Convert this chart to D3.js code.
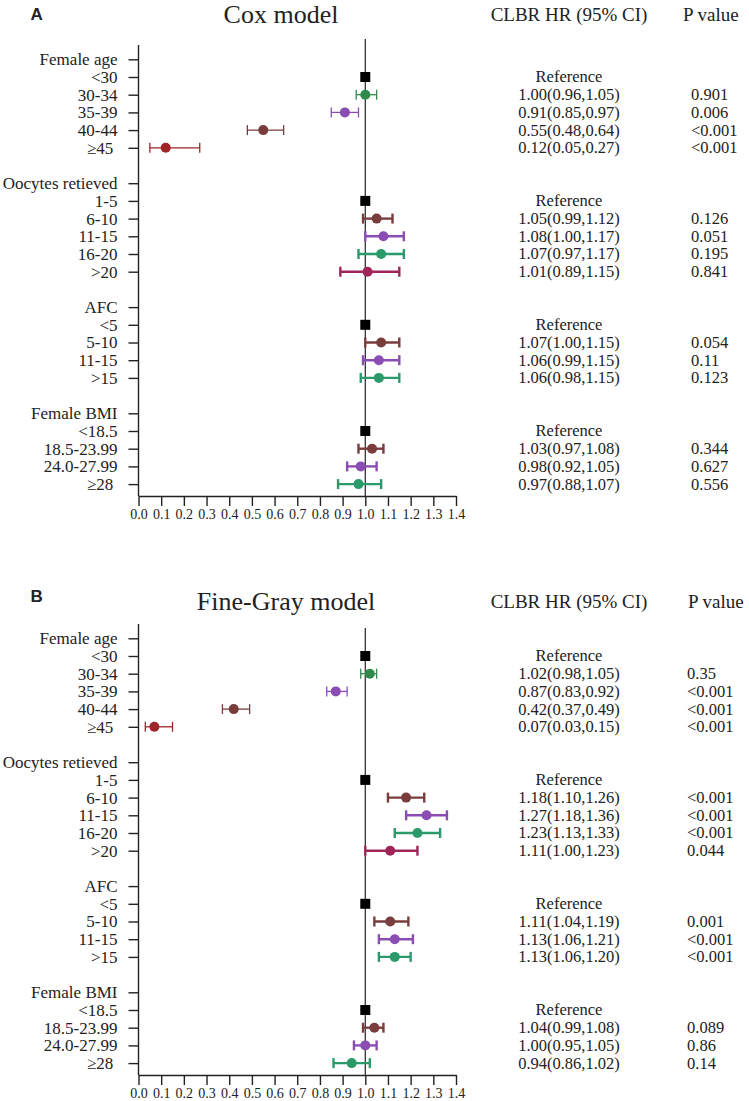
<!DOCTYPE html>
<html>
<head>
<meta charset="utf-8">
<script src="https://cdn.jsdelivr.net/npm/d3@7"></script>
<style>
  body { margin: 0; background: #fff; }
  text { font-family: "Liberation Serif", "Times New Roman", serif; }
</style>
</head>
<body>
<svg id="chart" width="749" height="1101"></svg>
<script>
const groups = ["Female age", "Oocytes retieved", "AFC", "Female BMI"];
const levels = [
  ["<30", "30-34", "35-39", "40-44", "≥45\u00a0"],
  ["1-5", "6-10", "11-15", "16-20", ">20"],
  ["<5", "5-10", "11-15", ">15"],
  ["<18.5", "18.5-23.99", "24.0-27.99", "≥28\u00a0"],
];

// Cox model (reference level excluded)
const coxHR = [[1.00, 0.91, 0.55, 0.12], [1.05, 1.08, 1.07, 1.01], [1.07, 1.06, 1.06], [1.03, 0.98, 0.97]];
const coxLo = [[0.96, 0.85, 0.48, 0.05], [0.99, 1.00, 0.97, 0.89], [1.00, 0.99, 0.98], [0.97, 0.92, 0.88]];
const coxHi = [[1.05, 0.97, 0.64, 0.27], [1.12, 1.17, 1.17, 1.15], [1.15, 1.15, 1.15], [1.08, 1.05, 1.07]];
const coxP = [["0.901", "0.006", "<0.001", "<0.001"], ["0.126", "0.051", "0.195", "0.841"], ["0.054", "0.11", "0.123"], ["0.344", "0.627", "0.556"]];

// Fine-Gray model
const fgHR = [[1.02, 0.87, 0.42, 0.07], [1.18, 1.27, 1.23, 1.11], [1.11, 1.13, 1.13], [1.04, 1.00, 0.94]];
const fgLo = [[0.98, 0.83, 0.37, 0.03], [1.10, 1.18, 1.13, 1.00], [1.04, 1.06, 1.06], [0.99, 0.95, 0.86]];
const fgHi = [[1.05, 0.92, 0.49, 0.15], [1.26, 1.36, 1.33, 1.23], [1.19, 1.21, 1.20], [1.08, 1.05, 1.02]];
const fgP = [["0.35", "<0.001", "<0.001", "<0.001"], ["<0.001", "<0.001", "<0.001", "0.044"], ["0.001", "<0.001", "<0.001"], ["0.089", "0.86", "0.14"]];

const xTicks = [0.0, 0.1, 0.2, 0.3, 0.4, 0.5, 0.6, 0.7, 0.8, 0.9, 1.0, 1.1, 1.2, 1.3, 1.4];

const brown = "#7a3d3d", purple = "#8a4db3", teal = "#2b9a6b";
const colorSets = [
  ["#2f8a4c", purple, brown, "#9e2427"],
  [brown, purple, teal, "#a0265a"],
  [brown, purple, teal],
  [brown, purple, teal],
];
const barWidths = [1.3, 2.4, 2.4, 2.4];

const svg = d3.select("#chart");

const x = d3.scaleLinear().domain([0, 1.4]).range([138.5, 456]);

function buildRows(hr, lo, hi, p) {
  const rows = [];
  groups.forEach((g, gi) => {
    if (gi > 0) rows.push({ type: "blank", label: "" });
    rows.push({ type: "header", label: g });
    levels[gi].forEach((lv, li) => {
      if (li === 0) {
        rows.push({ type: "ref", label: lv, g: gi });
      } else {
        const k = li - 1;
        rows.push({
          type: "est", label: lv, g: gi, k: k,
          hr: hr[gi][k], lo: lo[gi][k], hi: hi[gi][k], p: p[gi][k],
        });
      }
    });
  });
  rows.forEach((r, i) => (r.i = i));
  return rows;
}

function drawPanel(opt) {
  const rows = buildRows(opt.hr, opt.lo, opt.hi, opt.p);
  const top = opt.top;
  const axisBottom = top + 496;

  const y = d3
    .scalePoint()
    .domain(rows.map((r) => r.i))
    .range([top + 59.3, top + 484.1]);

  const g = svg.append("g");

  // panel letter + title + column headers
  g.append("text")
    .attr("x", 30.5)
    .attr("y", opt.letterY)
    .attr("font-weight", "bold")
    .attr("font-size", 17)
    .attr("fill", "#222")
    .style("font-family", "'Liberation Sans', Arial, sans-serif")
    .text(opt.letter);

  g.append("text")
    .attr("x", opt.titleX)
    .attr("y", opt.titleY)
    .attr("text-anchor", "middle")
    .attr("font-size", 26)
    .attr("fill", "#222")
    .text(opt.title);

  g.append("text")
    .attr("x", 569)
    .attr("y", opt.headY)
    .attr("text-anchor", "middle")
    .attr("font-size", 19)
    .attr("fill", "#222")
    .text("CLBR HR (95% CI)");

  g.append("text")
    .attr("x", opt.pHeadX)
    .attr("y", opt.headY)
    .attr("font-size", 19)
    .attr("fill", "#222")
    .text("P value");

  // y axis
  const yAxis = g
    .append("g")
    .attr("transform", `translate(${x(0)},0)`)
    .call(
      d3.axisLeft(y)
        .tickValues(rows.filter((r) => r.type !== "blank").map((r) => r.i))
        .tickFormat((i) => rows[i].label)
        .tickSize(10)
        .tickPadding(11)
    );
  yAxis.select(".domain").remove();
  yAxis.selectAll(".tick line").attr("stroke", "#222").attr("stroke-width", 1.4);
  yAxis.selectAll(".tick text")
    .attr("font-size", 17)
    .attr("fill", "#222")
    .style("font-family", "'Liberation Serif', 'Times New Roman', serif");

  g.append("line")
    .attr("x1", x(0)).attr("x2", x(0))
    .attr("y1", top + 45).attr("y2", axisBottom)
    .attr("stroke", "#222")
    .attr("stroke-width", 1.4);

  // x axis
  const xAxis = g
    .append("g")
    .attr("transform", `translate(0,${axisBottom})`)
    .call(
      d3.axisBottom(x)
        .tickValues(xTicks)
        .tickFormat(d3.format(".1f"))
        .tickSize(10)
        .tickSizeOuter(0)
        .tickPadding(3)
    );
  xAxis.select(".domain").attr("stroke", "#222").attr("stroke-width", 1.4);
  xAxis.selectAll(".tick line").attr("stroke", "#222").attr("stroke-width", 1.4);
  xAxis.selectAll(".tick text")
    .attr("font-size", 14)
    .attr("fill", "#222")
    .style("font-family", "'Liberation Serif', 'Times New Roman', serif");

  // line of no effect
  g.append("line")
    .attr("x1", x(1)).attr("x2", x(1))
    .attr("y1", top + opt.refTop).attr("y2", axisBottom)
    .attr("stroke", "#222")
    .attr("stroke-width", 1.2);

  const est = rows.filter((r) => r.type === "est");
  const refs = rows.filter((r) => r.type === "ref");

  const bars = g.append("g")
    .selectAll("g")
    .data(est)
    .join("g")
    .attr("stroke", (d) => colorSets[d.g][d.k])
    .attr("stroke-width", (d) => barWidths[d.g]);

  bars.append("line")
    .attr("x1", (d) => x(d.lo)).attr("x2", (d) => x(d.hi))
    .attr("y1", (d) => y(d.i)).attr("y2", (d) => y(d.i));
  bars.append("line")
    .attr("x1", (d) => x(d.lo)).attr("x2", (d) => x(d.lo))
    .attr("y1", (d) => y(d.i) - 5).attr("y2", (d) => y(d.i) + 5);
  bars.append("line")
    .attr("x1", (d) => x(d.hi)).attr("x2", (d) => x(d.hi))
    .attr("y1", (d) => y(d.i) - 5).attr("y2", (d) => y(d.i) + 5);

  g.append("g")
    .selectAll("circle")
    .data(est)
    .join("circle")
    .attr("cx", (d) => x(d.hr))
    .attr("cy", (d) => y(d.i))
    .attr("r", 5)
    .attr("fill", (d) => colorSets[d.g][d.k]);

  g.append("g")
    .selectAll("rect")
    .data(refs)
    .join("rect")
    .attr("x", x(1) - 5)
    .attr("y", (d) => y(d.i) - 5)
    .attr("width", 10)
    .attr("height", 10)
    .attr("fill", "#000");

  // text columns
  g.append("g")
    .selectAll("text")
    .data(rows.filter((r) => r.type === "ref" || r.type === "est"))
    .join("text")
    .attr("x", 569)
    .attr("y", (d) => y(d.i))
    .attr("dy", "0.33em")
    .attr("text-anchor", "middle")
    .attr("font-size", 16.5)
    .attr("fill", "#222")
    .text((d) => d.type === "ref" ? "Reference" : `${d.hr.toFixed(2)}(${d.lo.toFixed(2)},${d.hi.toFixed(2)})`);

  g.append("g")
    .selectAll("text")
    .data(est)
    .join("text")
    .attr("x", opt.pX)
    .attr("y", (d) => y(d.i))
    .attr("dy", "0.33em")
    .attr("font-size", 16.5)
    .attr("fill", "#222")
    .text((d) => d.p);
}

drawPanel({
  top: 0, letter: "A", letterY: 19.5,
  title: "Cox model", titleX: 281, titleY: 23,
  headY: 21, pHeadX: 683, pX: 691, refTop: 39,
  hr: coxHR, lo: coxLo, hi: coxHi, p: coxP,
});

drawPanel({
  top: 579, letter: "B", letterY: 601.5,
  title: "Fine-Gray model", titleX: 286, titleY: 610,
  headY: 608, pHeadX: 688, pX: 687, refTop: 49,
  hr: fgHR, lo: fgLo, hi: fgHi, p: fgP,
});
</script>
</body>
</html>
